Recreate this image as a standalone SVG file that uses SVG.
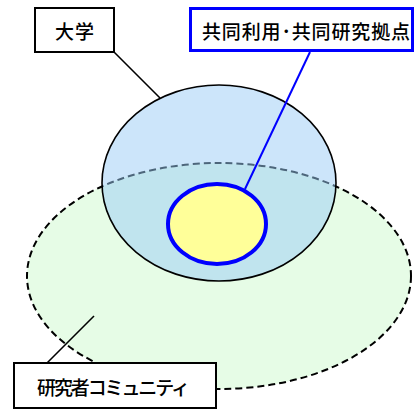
<svg xmlns="http://www.w3.org/2000/svg" width="414" height="414" viewBox="0 0 414 414">
<style>
.lbl{font-family:"Noto Sans CJK JP","Noto Sans CJK SC",sans-serif;font-size:19px;font-weight:500;fill:#000;text-anchor:middle;dominant-baseline:central}
.box{fill:#fff;stroke:#000;stroke-width:2}
</style>
<rect width="414" height="414" fill="#fff"/>
<g id="community">
<ellipse cx="219" cy="276" rx="192" ry="113" fill="#e6fce6" stroke="#000" stroke-width="2" stroke-dasharray="7,4"/>
</g>
<g id="university">
<ellipse cx="219" cy="183" rx="117" ry="98" fill="#99ccf5" fill-opacity="0.5" stroke="#000" stroke-width="1.6"/>
</g>
<g id="center">
<ellipse cx="217" cy="224" rx="49" ry="40" fill="#ffff99" stroke="#0000ff" stroke-width="4"/>
</g>
<g id="connectors">
<line x1="114" y1="52" x2="160" y2="98" stroke="#000" stroke-width="1.6"/>
<line x1="310" y1="52" x2="245" y2="189" stroke="#0000ff" stroke-width="2"/>
<line x1="47" y1="363" x2="94" y2="316" stroke="#000" stroke-width="1.6"/>
</g>
<g id="label-university">
<rect class="box" x="35" y="8" width="79" height="44"/>
<text class="lbl" x="74.5" y="30" textLength="39" lengthAdjust="spacing">大学</text>
</g>
<g id="label-center">
<rect x="190.5" y="8.5" width="222" height="42" fill="#fff" stroke="#0000ff" stroke-width="3"/>
<text class="lbl" x="306" y="30" textLength="208" lengthAdjust="spacing">共同利用･共同研究拠点</text>
</g>
<g id="label-community">
<rect class="box" x="14" y="363" width="202" height="45"/>
<text class="lbl" x="113.5" y="386" textLength="153" lengthAdjust="spacing">研究者コミュニティ</text>
</g>
</svg>
